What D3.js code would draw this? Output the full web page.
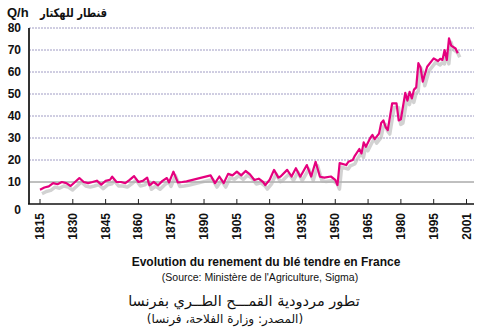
<!DOCTYPE html>
<html>
<head>
<meta charset="utf-8">
<script src="https://cdn.jsdelivr.net/npm/d3@7"></script>
<style>
  html, body { margin: 0; padding: 0; background: #fff; }
  svg { display: block; }
</style>
</head>
<body>
<svg id="chart" width="480" height="335"></svg>
<script>
// Soft wheat yield in France, quintals per hectare
const years = [1815,1817,1819,1821,1823,1825,1827,1829,1831,1833,1835,1837,1839,1841,1843,1845,1847,1848,1850,1852,1854,1856,1858,1860,1862,1864,1865,1867,1869,1871,1873,1874,1876,1878,1880,1882,1893,1895,1897,1899,1901,1903,1905,1907,1909,1911,1913,1915,1917,1918,1920,1922,1924,1925,1928,1930,1932,1934,1937,1939,1941,1943,1945,1948,1950,1951,1952,1955,1956,1958,1959,1961,1962,1963,1964,1966,1967,1968,1970,1971,1972,1973,1974,1976,1978,1979,1980,1982,1983,1984,1985,1986,1987,1988,1989,1990,1992,1995,1997,1998,1999,2000,2001,2002,2003,2005,2006];
const yields = [6.5,7.5,8,9.5,9,10,9.5,8.2,10,11.8,10,9.5,10,10.6,8.8,10.5,11,12.4,10,10,9.5,11,12.7,10,10.5,12,8.5,10,8.5,10.5,11.8,9.8,14.7,9.8,10,10.3,13,9.5,12.5,9.5,13.7,13,14.7,13,15,13.5,10.9,11.5,10,8.6,11,15.5,12,12.5,15.5,12.5,16.3,12.4,17.7,12.5,19.2,12.4,12,12.5,11,8.6,18.6,17.7,19.2,20,22,25,23,28,26,30,31.4,29.5,32,36.8,38,35,33.6,45.7,45.7,38,38.5,50.5,47,51,48,52,53,64,62,55.6,62.4,66.2,65,66,65.5,70,65.5,75.3,72,70.7,68.5];

const yTicks = [0,10,20,30,40,50,60,70,80];
const xTickValues = [1815,1830,1845,1860,1875,1890,1905,1920,1935,1950,1965,1980,1995,2010];
const xTickLabels = ["1815","1830","1845","1860","1875","1890","1905","1920","1935","1950","1965","1980","1995","2001"];

const unitLatin = "Q/h";
const unitArabic = "قنطار للهكتار";
const titleFr = "Evolution du renement du blé tendre en France";
const sourceFr = "(Source: Ministère de l'Agriculture, Sigma)";
const titleAr = "تطور مردودية القمـــح الطــري بفرنسا";
const sourceAr = "(المصدر: وزارة الفلاحة، فرنسا)";

const svg = d3.select("#chart");
const plotLeft = 29, plotRight = 474;

const x = d3.scaleLinear().domain([1815, 2010]).range([40, 466.5]);
const y = d3.scaleLinear().domain([0, 80]).range([204, 28]);

const data = years.map((yr, i) => ({ year: yr, value: yields[i] }));

// horizontal grid
svg.append("g").selectAll("line")
  .data(yTicks.filter(d => d > 0))
  .join("line")
  .attr("x1", plotLeft).attr("x2", plotRight)
  .attr("y1", d => y(d)).attr("y2", d => y(d))
  .attr("stroke", d => d === 10 ? "#808080" : "#a09cc4")
  .attr("stroke-width", 1)
  .attr("stroke-dasharray", d => d === 10 ? null : "2,1");

// y labels
svg.append("g").selectAll("text")
  .data(yTicks)
  .join("text")
  .attr("x", 21)
  .attr("y", d => y(d) + (d === 0 ? 6 : 0))
  .attr("dy", "0.35em")
  .attr("text-anchor", "end")
  .attr("font-family", "Liberation Sans, Arial, sans-serif")
  .attr("font-weight", "bold")
  .attr("font-size", 12)
  .attr("fill", "#111")
  .text(d => d);

// axes lines
svg.append("line")
  .attr("x1", plotLeft).attr("x2", plotLeft)
  .attr("y1", y(80)).attr("y2", y(0))
  .attr("stroke", "#333").attr("stroke-width", 2);
svg.append("line")
  .attr("x1", plotLeft - 1).attr("x2", plotRight)
  .attr("y1", y(0)).attr("y2", y(0))
  .attr("stroke", "#111").attr("stroke-width", 1.5);

// x ticks (inward) and rotated labels
const xt = svg.append("g");
xt.selectAll("line")
  .data(xTickValues)
  .join("line")
  .attr("x1", d => x(d)).attr("x2", d => x(d))
  .attr("y1", y(0) - 5).attr("y2", y(0))
  .attr("stroke", "#222").attr("stroke-width", 1);
xt.selectAll("text")
  .data(xTickValues)
  .join("text")
  .attr("transform", d => `translate(${x(d)},213) rotate(-90)`)
  .attr("text-anchor", "end")
  .attr("dominant-baseline", "central")
  .attr("font-family", "Liberation Sans, Arial, sans-serif")
  .attr("font-weight", "bold")
  .attr("font-size", 12)
  .attr("fill", "#111")
  .text((d, i) => xTickLabels[i]);

// yield line with a grey drop shadow
const line = d3.line().x(d => x(d.year)).y(d => y(d.value));
svg.append("path")
  .datum(data)
  .attr("d", line)
  .attr("transform", "translate(2,4)")
  .attr("fill", "none")
  .attr("stroke", "#b4b4b4")
  .attr("stroke-width", 3.5)
  .attr("stroke-opacity", 0.6)
  .attr("stroke-linejoin", "round");
svg.append("path")
  .datum(data)
  .attr("d", line)
  .attr("fill", "none")
  .attr("stroke", "#e5007e")
  .attr("stroke-width", 2.2)
  .attr("stroke-linejoin", "round");

// unit label
svg.append("text")
  .attr("x", 7).attr("y", 17)
  .attr("font-family", "Liberation Sans, Arial, sans-serif")
  .attr("font-weight", "bold").attr("font-size", 13)
  .attr("fill", "#111")
  .text(unitLatin);
svg.append("text")
  .attr("x", 40).attr("y", 17)
  .attr("textLength", 67)
  .attr("lengthAdjust", "spacingAndGlyphs")
  .attr("font-family", "DejaVu Sans, sans-serif")
  .attr("font-weight", "bold").attr("font-size", 12)
  .attr("fill", "#111")
  .text(unitArabic);

// captions
svg.append("text")
  .attr("x", 266).attr("y", 266)
  .attr("text-anchor", "middle")
  .attr("font-family", "Liberation Sans, Arial, sans-serif")
  .attr("font-weight", "bold").attr("font-size", 12)
  .attr("fill", "#111")
  .text(titleFr);
svg.append("text")
  .attr("x", 260).attr("y", 281)
  .attr("text-anchor", "middle")
  .attr("font-family", "Liberation Sans, Arial, sans-serif")
  .attr("font-size", 10.5)
  .attr("fill", "#111")
  .text(sourceFr);
svg.append("text")
  .attr("x", 244).attr("y", 306)
  .attr("text-anchor", "middle")
  .attr("direction", "rtl")
  .attr("font-family", "DejaVu Sans, sans-serif")
  .attr("font-size", 14.5)
  .attr("fill", "#111")
  .text(titleAr);
svg.append("text")
  .attr("x", 225).attr("y", 323)
  .attr("text-anchor", "middle")
  .attr("direction", "rtl")
  .attr("font-family", "DejaVu Sans, sans-serif")
  .attr("font-size", 12)
  .attr("fill", "#111")
  .text(sourceAr);
</script>
</body>
</html>
